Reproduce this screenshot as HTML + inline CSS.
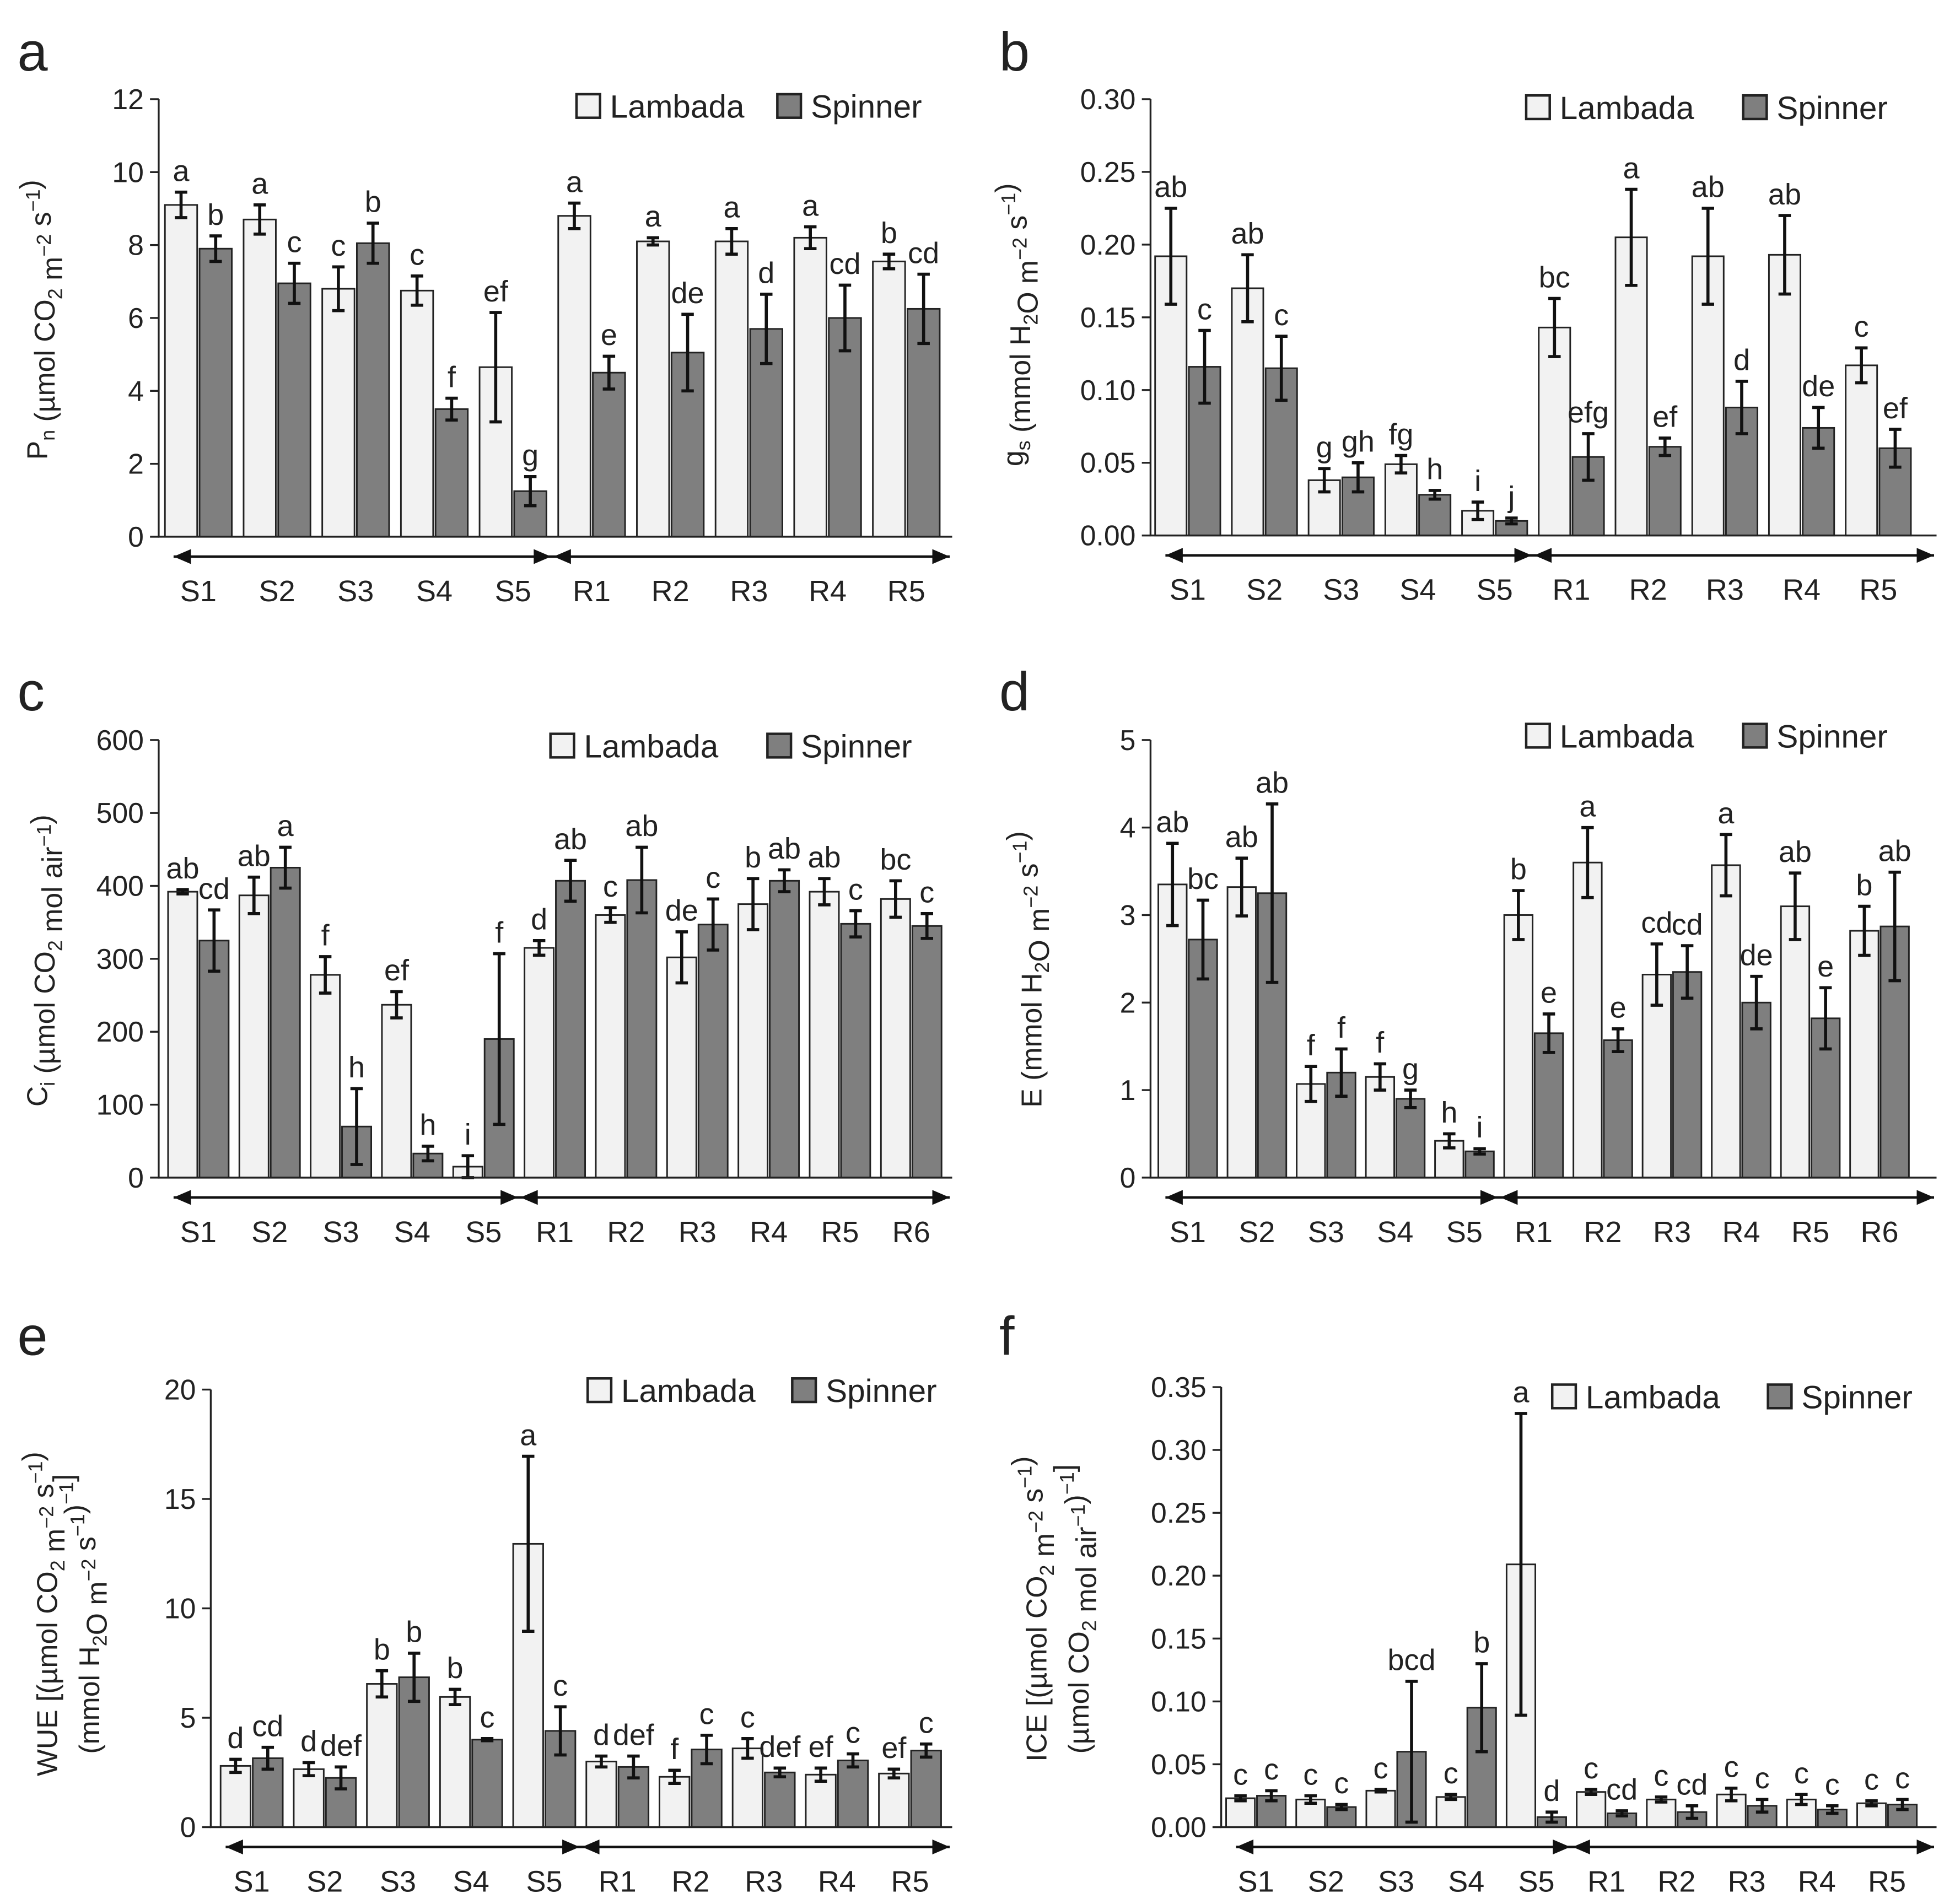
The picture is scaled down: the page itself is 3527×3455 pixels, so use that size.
<!DOCTYPE html>
<html><head><meta charset="utf-8"><style>
html,body{margin:0;padding:0;background:#fff}
svg{display:block}
text{font-family:"Liberation Sans",Arial,sans-serif;fill:#222}
</style></head><body>
<svg id="chart" width="3527" height="3455" viewBox="0 0 1568 1536" preserveAspectRatio="none" xmlns="http://www.w3.org/2000/svg"></svg>
<script>
// Panel a - Pn
const aCats=["S1","S2","S3","S4","S5","R1","R2","R3","R4","R5"];
const aL=[9.1,8.7,6.8,6.75,4.65,8.8,8.1,8.1,8.2,7.55];
const aLe=[0.35,0.4,0.6,0.4,1.5,0.35,0.1,0.35,0.3,0.2];
const aS=[7.9,6.95,8.05,3.5,1.25,4.5,5.05,5.7,6.0,6.25];
const aSe=[0.35,0.55,0.55,0.3,0.4,0.45,1.05,0.95,0.9,0.95];
const aLt=["a","a","c","c","ef","a","a","a","a","b"];
const aSt=["b","c","b","f","g","e","de","d","cd","cd"];
const aTicks=["0","2","4","6","8","10","12"];
// Panel b - gs
const bCats=["S1","S2","S3","S4","S5","R1","R2","R3","R4","R5"];
const bL=[0.192,0.170,0.038,0.049,0.017,0.143,0.205,0.192,0.193,0.117];
const bLe=[0.033,0.023,0.008,0.006,0.006,0.02,0.033,0.033,0.027,0.012];
const bS=[0.116,0.115,0.040,0.028,0.010,0.054,0.061,0.088,0.074,0.060];
const bSe=[0.025,0.022,0.01,0.003,0.002,0.016,0.006,0.018,0.014,0.013];
const bLt=["ab","ab","g","fg","i","bc","a","ab","ab","c"];
const bSt=["c","c","gh","h","j","efg","ef","d","de","ef"];
const bTicks=["0.00","0.05","0.10","0.15","0.20","0.25","0.30"];
// Panel c - Ci
const cCats=["S1","S2","S3","S4","S5","R1","R2","R3","R4","R5","R6"];
const cL=[392,387,278,237,15,315,360,302,375,392,382];
const cLe=[3,25,25,18,15,10,10,35,35,18,25];
const cS=[325,425,70,33,190,407,408,347,407,348,345];
const cSe=[42,28,52,10,117,28,45,35,15,18,17];
const cLt=["ab","ab","f","ef","i","d","c","de","b","ab","bc"];
const cSt=["cd","a","h","h","f","ab","ab","c","ab","c","c"];
const cTicks=["0","100","200","300","400","500","600"];
// Panel d - E
const dCats=["S1","S2","S3","S4","S5","R1","R2","R3","R4","R5","R6"];
const dL=[3.35,3.32,1.07,1.15,0.42,3.0,3.6,2.32,3.57,3.1,2.82];
const dLe=[0.47,0.33,0.2,0.15,0.08,0.28,0.4,0.35,0.35,0.38,0.28];
const dS=[2.72,3.25,1.2,0.9,0.3,1.65,1.57,2.35,2.0,1.82,2.87];
const dSe=[0.45,1.02,0.27,0.1,0.03,0.22,0.13,0.3,0.3,0.35,0.62];
const dLt=["ab","ab","f","f","h","b","a","cd","a","ab","b"];
const dSt=["bc","ab","f","g","i","e","e","cd","de","e","ab"];
const dTicks=["0","1","2","3","4","5"];
// Panel e - WUE
const eCats=["S1","S2","S3","S4","S5","R1","R2","R3","R4","R5"];
const eL=[2.8,2.65,6.55,5.95,12.95,3.0,2.3,3.6,2.4,2.45];
const eLe=[0.3,0.3,0.6,0.35,4,0.25,0.3,0.45,0.3,0.2];
const eS=[3.15,2.25,6.85,4.0,4.4,2.75,3.55,2.5,3.05,3.5];
const eSe=[0.5,0.5,1.1,0.05,1.1,0.5,0.65,0.2,0.3,0.3];
const eLt=["d","d","b","b","a","d","f","c","ef","ef"];
const eSt=["cd","def","b","c","c","def","c","def","c","c"];
const eTicks=["0","5","10","15","20"];
// Panel f - ICE
const fCats=["S1","S2","S3","S4","S5","R1","R2","R3","R4","R5"];
const fL=[0.023,0.022,0.029,0.024,0.209,0.028,0.022,0.026,0.022,0.019];
const fLe=[0.002,0.003,0.001,0.002,0.12,0.002,0.002,0.005,0.004,0.002];
const fS=[0.025,0.016,0.060,0.095,0.008,0.011,0.012,0.017,0.014,0.018];
const fSe=[0.004,0.002,0.056,0.035,0.004,0.002,0.005,0.005,0.003,0.004];
const fLt=["c","c","c","c","a","c","c","c","c","c"];
const fSt=["c","c","bcd","b","d","cd","cd","c","c","c"];
const fTicks=["0.00","0.05","0.10","0.15","0.20","0.25","0.30","0.35"];

const NS="http://www.w3.org/2000/svg";
const svg=document.getElementById("chart");
function mk(tag,attrs,parent){const e=document.createElementNS(NS,tag);for(const k in attrs)e.setAttribute(k,attrs[k]);(parent||svg).appendChild(e);return e;}

function panel(p){
  const g=mk("g",{});
  
  
  const ymax=parseFloat(p.ticks[p.ticks.length-1]);
  const ys=v=>p.y0-(v/ymax)*(p.y0-p.yTop);
  const n=p.cats.length;
  const sp=(p.lastX-p.firstX)/(n-1);
  const xc=i=>p.firstX+i*sp;
  const off=0.22*sp,bw=0.41*sp;
  const pl=mk("text",{x:p.letterX,y:p.letterY,"font-size":44},g);pl.textContent=p.id;
  
  
  p.ticks.forEach(t=>{
    const y=ys(parseFloat(t));
    const ln=mk("line",{x1:p.ax-7,x2:p.ax,y1:y,y2:y,stroke:"#222","stroke-width":1.5},g);
    
    
    const tx=mk("text",{x:p.ax-12,y:y+8,"font-size":23,"text-anchor":"end"},g);tx.textContent=t;
    
    
  });
  const series=[[p.L,p.Le,p.Lt,"#f2f2f2",-off,"lambada"],[p.S,p.Se,p.St,"#7f7f7f",off,"spinner"]];
  series.forEach(([vals,errs,lets,col,o,nm])=>{
    vals.forEach((v,i)=>{
      const cx=xc(i)+o;
      const r=mk("rect",{x:cx-bw/2,y:ys(v),width:bw,height:p.y0-ys(v),fill:col,stroke:"#222","stroke-width":1.3},g);
      
      
      const hi=ys(v+errs[i]),lo=ys(Math.max(0,v-errs[i]));
      const eb=mk("path",{d:`M${cx},${hi}V${lo}M${cx-5},${hi}H${cx+5}M${cx-5},${lo}H${cx+5}`,stroke:"#111","stroke-width":2.5,fill:"none"},g);
      
      
      const lt=mk("text",{x:cx,y:hi-9,"font-size":24,"text-anchor":"middle"},g);lt.textContent=lets[i];
      
      
    });
  });
  const axl=mk("path",{d:`M${p.ax},${p.yTop}V${p.y0}H${p.axEnd}`,stroke:"#222","stroke-width":1.5,fill:"none"},g);
  
  
  p.cats.forEach((c,i)=>{
    const t=mk("text",{x:xc(i),y:p.y0+52,"font-size":24,"text-anchor":"middle"},g);t.textContent=c;
    
    
  });
  const ay=p.y0+16,sep=(xc(4)+xc(5))/2,x1=p.ax+12,x2=p.axEnd-2;
  const ah=(x,dir)=>`M${x},${ay}L${x-dir*14},${ay-6}L${x-dir*14},${ay+6}Z`;
  const arr=mk("path",{d:`M${x1},${ay}H${x2}`,stroke:"#111","stroke-width":2,fill:"none"},g);
  
  
  const heads=mk("path",{d:ah(x1,-1)+ah(sep-1,1)+ah(sep+1,-1)+ah(x2,1),fill:"#111"},g);
  
  
  [["Lambada","#f2f2f2",p.lg1],["Spinner","#7f7f7f",p.lg2]].forEach(([nm,col,lx])=>{
    const b=mk("rect",{x:lx,y:p.lgY,width:19,height:19,fill:col,stroke:"#222","stroke-width":2},g);
    
    
    const t=mk("text",{x:lx+27,y:p.lgY+19,"font-size":26},g);t.textContent=nm;
    
    
  });
  p.titles.forEach(([x,html])=>{
    const t=mk("text",{transform:`translate(${x},${p.titleY}) rotate(-90)`,"font-size":23,"text-anchor":"middle"},g);
    t.innerHTML=html;
    
    
  });
}
const sub=s=>`<tspan dy="6" font-size="16">${s}</tspan><tspan dy="-6"></tspan>`;
const sup=s=>`<tspan dy="-9" font-size="16">${s}</tspan><tspan dy="9"></tspan>`;

panel({id:"a",cats:aCats,L:aL,Le:aLe,S:aS,Se:aSe,Lt:aLt,St:aSt,ticks:aTicks,ax:128,axEnd:768,yTop:80,y0:433,firstX:160,lastX:731,letterX:14,letterY:57,lg1:465,lg2:627,lgY:76,titleY:258,
 titles:[[38,"P"+sub("n")+" (µmol CO"+sub("2")+" m"+sup("−2")+" s"+sup("−1")+")"]]});
panel({id:"b",cats:bCats,L:bL,Le:bLe,S:bS,Se:bSe,Lt:bLt,St:bSt,ticks:bTicks,ax:928,axEnd:1562,yTop:80,y0:432,firstX:958,lastX:1515,letterX:806,letterY:57,lg1:1231,lg2:1406,lgY:77,titleY:262,
 titles:[[825,"g"+sub("s")+" (mmol H"+sub("2")+"O m"+sup("−2")+" s"+sup("−1")+")"]]});
panel({id:"c",cats:cCats,L:cL,Le:cLe,S:cS,Se:cSe,Lt:cLt,St:cSt,ticks:cTicks,ax:128,axEnd:768,yTop:597,y0:950,firstX:160,lastX:735,letterX:14,letterY:573,lg1:444,lg2:619,lgY:592,titleY:775,
 titles:[[38,"C"+sub("i")+" (µmol CO"+sub("2")+" mol air"+sup("−1")+")"]]});
panel({id:"d",cats:dCats,L:dL,Le:dLe,S:dS,Se:dSe,Lt:dLt,St:dSt,ticks:dTicks,ax:928,axEnd:1562,yTop:597,y0:950,firstX:958,lastX:1516,letterX:806,letterY:573,lg1:1231,lg2:1406,lgY:584,titleY:782,
 titles:[[840,"E (mmol H"+sub("2")+"O m"+sup("−2")+" s"+sup("−1")+")"]]});
panel({id:"e",cats:eCats,L:eL,Le:eLe,S:eS,Se:eSe,Lt:eLt,St:eSt,ticks:eTicks,ax:170,axEnd:768,yTop:1121,y0:1474,firstX:203,lastX:734,letterX:14,letterY:1093,lg1:474,lg2:639,lgY:1112,titleY:1302,
 titles:[[46,"WUE [(µmol CO"+sub("2")+" m"+sup("−2")+" s"+sup("−1")+")"],[80,"(mmol H"+sub("2")+"O m"+sup("−2")+" s"+sup("−1")+")"+sup("−1")+"]"]]});
panel({id:"f",cats:fCats,L:fL,Le:fLe,S:fS,Se:fSe,Lt:fLt,St:fSt,ticks:fTicks,ax:985,axEnd:1562,yTop:1119,y0:1474,firstX:1013,lastX:1522,letterX:806,letterY:1093,lg1:1252,lg2:1426,lgY:1117,titleY:1298,
 titles:[[844,"ICE [(µmol CO"+sub("2")+" m"+sup("−2")+" s"+sup("−1")+")"],[878,"(µmol CO"+sub("2")+" mol air"+sup("−1")+")"+sup("−1")+"]"]]});
</script>
</body></html>
